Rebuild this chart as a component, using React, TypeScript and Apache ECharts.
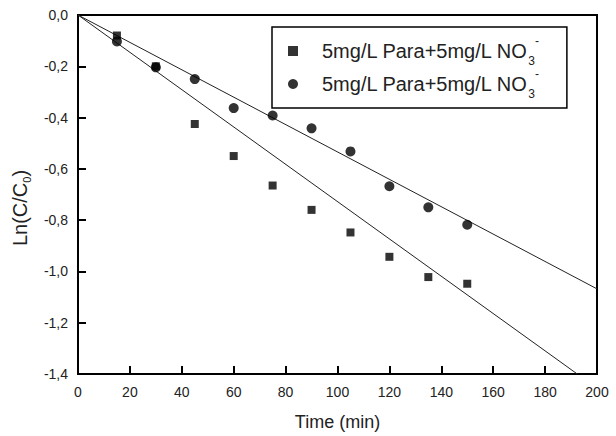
import React, { useEffect, useRef } from "react";
import * as echarts from "echarts";

// Sampling times (min)
const times = [15, 30, 45, 60, 75, 90, 105, 120, 135, 150];
// Ln(C/C0) measured values
const squareValues = [-0.08, -0.2, -0.425, -0.55, -0.665, -0.76, -0.848, -0.943, -1.022, -1.048];
const circleValues = [-0.103, -0.204, -0.25, -0.363, -0.392, -0.442, -0.532, -0.668, -0.75, -0.818];
// Linear fit endpoints [time, Ln(C/C0)]
const squareFit = [[0, 0], [192.4, -1.4]];
const circleFit = [[0, 0], [200, -1.068]];
// Axis tick labels
const xTicks = [0, 20, 40, 60, 80, 100, 120, 140, 160, 180, 200];
const yTicks = ["0,0", "-0,2", "-0,4", "-0,6", "-0,8", "-1,0", "-1,2", "-1,4"];

const FONT = "'Liberation Sans', Arial, sans-serif";
const legendText = "{t|5mg/L Para+5mg/L NO}{sub|3}{sup|-}";

export default function App() {
  const ref = useRef<HTMLDivElement>(null);

  useEffect(() => {
    if (!ref.current) return;
    const chart = echarts.init(ref.current, undefined, { renderer: "svg" });
    const sq = times.map((t, i) => [t, squareValues[i]]);
    const ci = times.map((t, i) => [t, circleValues[i]]);

    chart.setOption({
      animation: false,
      backgroundColor: "#fff",
      grid: {
        left: 78,
        right: 19,
        top: 15,
        bottom: 56,
        show: true,
        borderColor: "#000",
        borderWidth: 2,
        backgroundColor: "transparent",
      },
      xAxis: {
        type: "value",
        min: xTicks[0],
        max: xTicks[xTicks.length - 1],
        interval: 20,
        name: "Time (min)",
        nameLocation: "middle",
        nameGap: 39,
        nameTextStyle: { fontSize: 18, fontFamily: FONT, color: "#222" },
        axisLine: { onZero: false, lineStyle: { color: "#000", width: 2 } },
        axisTick: { inside: true, length: 8, lineStyle: { color: "#000", width: 2 } },
        axisLabel: { fontSize: 14, fontFamily: FONT, color: "#222", margin: 11 },
        splitLine: { show: false },
      },
      yAxis: {
        type: "value",
        min: -1.4,
        max: 0,
        interval: 0.2,
        name: "{a|Ln(C/C}{sub|0}{a|)}",
        nameLocation: "middle",
        nameRotate: 90,
        nameGap: 35,
        nameTextStyle: {
          fontFamily: FONT,
          color: "#222",
          padding: [0, 27, 0, 0],
          rich: {
            a: { fontSize: 20, fontFamily: FONT, color: "#222", lineHeight: 26 },
            sub: { fontSize: 11, fontFamily: FONT, color: "#222", lineHeight: 14, verticalAlign: "bottom" },
          },
        },
        axisLine: { onZero: false, lineStyle: { color: "#000", width: 2 } },
        axisTick: { inside: true, length: 8, lineStyle: { color: "#000", width: 2 } },
        axisLabel: {
          fontSize: 14,
          fontFamily: FONT,
          color: "#222",
          margin: 10,
          formatter: (v: number) => yTicks[Math.round(-v / 0.2)] ?? "",
        },
        splitLine: { show: false },
      },
      legend: {
        orient: "vertical",
        left: 272,
        top: 27,
        padding: [8, 28, 8, 16],
        itemGap: 1,
        itemWidth: 10,
        itemHeight: 10,
        borderColor: "#000",
        borderWidth: 1.5,
        backgroundColor: "#fff",
        data: [
          { name: "squares", icon: "rect" },
          { name: "circles", icon: "circle" },
        ],
        formatter: () => legendText,
        textStyle: {
          rich: {
            t: { fontSize: 20, fontFamily: FONT, color: "#222", lineHeight: 32, padding: [0, 0, 0, 19] },
            sub: { fontSize: 12, fontFamily: FONT, color: "#222", lineHeight: 20, verticalAlign: "bottom" },
            sup: { fontSize: 12, fontFamily: FONT, color: "#222", lineHeight: 4, verticalAlign: "top" },
          },
        },
      },
      series: [
        {
          name: "squareFit",
          type: "line",
          data: squareFit,
          symbol: "none",
          lineStyle: { color: "#222", width: 1 },
          silent: true,
          z: 1,
        },
        {
          name: "circleFit",
          type: "line",
          data: circleFit,
          symbol: "none",
          lineStyle: { color: "#222", width: 1 },
          silent: true,
          z: 1,
        },
        {
          name: "squares",
          type: "scatter",
          data: sq,
          symbol: "rect",
          symbolSize: 8,
          itemStyle: { color: "#000" },
          z: 3,
        },
        {
          name: "circles",
          type: "scatter",
          data: ci,
          symbol: "circle",
          symbolSize: 10,
          itemStyle: { color: "#000" },
          z: 3,
        },
      ],
    });

    return () => chart.dispose();
  }, []);

  return (
    <div
      ref={ref}
      style={{ position: "absolute", left: 0, top: 0, width: 616, height: 436 }}
    />
  );
}
